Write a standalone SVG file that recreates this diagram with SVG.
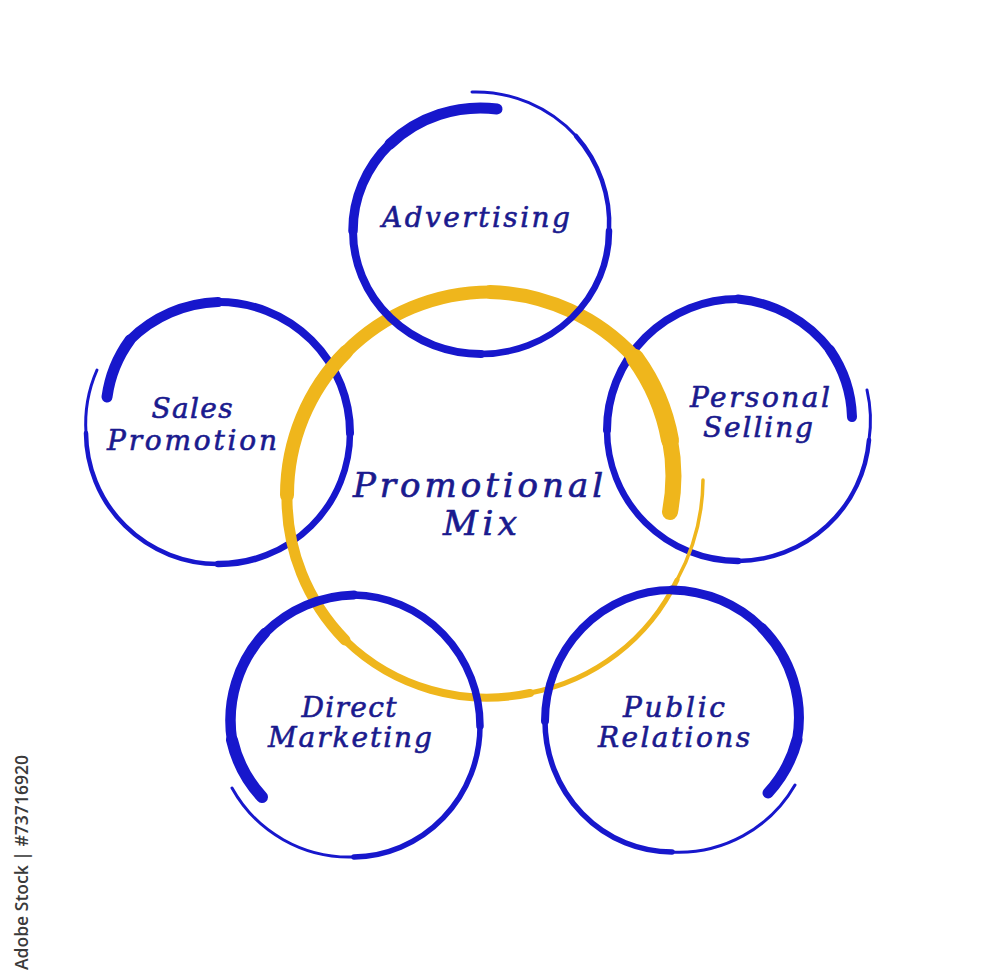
<svg xmlns="http://www.w3.org/2000/svg" width="1000" height="977" viewBox="0 0 1000 977">
<style>
.b{fill:none;stroke:#1717cc;stroke-linecap:round;stroke-linejoin:round}
.o{fill:none;stroke:#efb61c;stroke-linecap:round;stroke-linejoin:round}
.t{font-family:"DejaVu Serif","Liberation Serif",serif;font-style:italic;fill:#1a1a8e;stroke:#1a1a8e;stroke-width:0.6px;text-anchor:middle;font-size:28px}
.c{font-size:34px;stroke-width:0.7px}
</style>
<rect width="1000" height="977" fill="#ffffff"/>
<g id="node-sales-promotion">
<path class="b" stroke-width="11" d="M107,397 A125,125 0 0 1 130,340"/>
<path class="b" stroke-width="10" d="M130,340 A131,131 0 0 1 218,302"/>
<path class="b" stroke-width="8" d="M218,302 A131,131 0 0 1 350,433"/>
<path class="b" stroke-width="6.5" d="M350,433 A131,131 0 0 1 218,564"/>
<path class="b" stroke-width="4.5" d="M218,564 A132,132 0 0 1 86,433"/>
<path class="b" stroke-width="3" d="M86,433 A134,134 0 0 1 97,370"/>
<text class="t" x="192" y="418" textLength="81" lengthAdjust="spacing">Sales</text>
<text class="t" x="192" y="450" textLength="170" lengthAdjust="spacing">Promotion</text>
</g>
<g id="node-personal-selling">
<path class="b" stroke-width="10" d="M852,417 A125,125 0 0 0 830,350"/>
<path class="b" stroke-width="9" d="M830,350 A131,131 0 0 0 738,299"/>
<path class="b" stroke-width="8" d="M738,299 A131,131 0 0 0 607,430"/>
<path class="b" stroke-width="6.5" d="M607,430 A131,131 0 0 0 738,561"/>
<path class="b" stroke-width="4.5" d="M738,561 A132,132 0 0 0 869,440"/>
<path class="b" stroke-width="3" d="M869,440 A134,134 0 0 0 867,390"/>
<text class="t" x="760" y="407" textLength="140" lengthAdjust="spacing">Personal</text>
<text class="t" x="758" y="437" textLength="110" lengthAdjust="spacing">Selling</text>
</g>
<g id="node-promotional-mix">
<path class="o" stroke-width="3.5" d="M703,480 A212,212 0 0 1 677,580"/>
<path class="o" stroke-width="5" d="M677,580 A205,205 0 0 1 530,693"/>
<path class="o" stroke-width="8" d="M530,693 A203,203 0 0 1 345,640"/>
<path class="o" stroke-width="11" d="M345,640 A203,203 0 0 1 287,495"/>
<path class="o" stroke-width="14" d="M287,495 A203,203 0 0 1 346,352"/>
<path class="o" stroke-width="13" d="M346,352 A203,203 0 0 1 490,292"/>
<path class="o" stroke-width="14" d="M490,292 A203,203 0 0 1 635,358"/>
<path class="o" stroke-width="18" d="M635,358 A200,200 0 0 1 670,440"/>
<path class="o" stroke-width="16" d="M670,440 A190,190 0 0 1 670,512"/>
<text class="t c" x="478" y="497" textLength="250" lengthAdjust="spacing">Promotional</text>
<text class="t c" x="480" y="535" textLength="74" lengthAdjust="spacing">Mix</text>
</g>
<g id="node-advertising">
<path class="b" stroke-width="11" d="M497,109 A128,123 0 0 0 390,144"/>
<path class="b" stroke-width="9.5" d="M390,144 A128,123 0 0 0 353,231"/>
<path class="b" stroke-width="8" d="M353,231 A128,123 0 0 0 481,354"/>
<path class="b" stroke-width="6.5" d="M481,354 A128,123 0 0 0 609,231"/>
<path class="b" stroke-width="4.5" d="M609,231 A132,132 0 0 0 576,136"/>
<path class="b" stroke-width="3" d="M576,136 A136,136 0 0 0 472,92"/>
<text class="t" x="476" y="227" textLength="188" lengthAdjust="spacing">Advertising</text>
</g>
<g id="node-direct-marketing">
<path class="b" stroke-width="12" d="M262,797 A125,125 0 0 1 232,740"/>
<path class="b" stroke-width="10.5" d="M232,740 A128,128 0 0 1 265,633"/>
<path class="b" stroke-width="9" d="M265,633 A130,130 0 0 1 354,595"/>
<path class="b" stroke-width="7.5" d="M354,595 A128,131 0 0 1 480,726"/>
<path class="b" stroke-width="5.5" d="M480,726 A128,131 0 0 1 354,857"/>
<path class="b" stroke-width="3" d="M354,857 A134,134 0 0 1 232,788"/>
<text class="t" x="349" y="717" textLength="95" lengthAdjust="spacing">Direct</text>
<text class="t" x="350" y="747" textLength="164" lengthAdjust="spacing">Marketing</text>
</g>
<g id="node-public-relations">
<path class="b" stroke-width="11" d="M768,793 A125,125 0 0 0 797,740"/>
<path class="b" stroke-width="10" d="M797,740 A128,128 0 0 0 762,628"/>
<path class="b" stroke-width="9" d="M762,628 A130,130 0 0 0 672,590"/>
<path class="b" stroke-width="8" d="M672,590 A127,131 0 0 0 545,721"/>
<path class="b" stroke-width="5.5" d="M545,721 A127,131 0 0 0 672,852"/>
<path class="b" stroke-width="3" d="M672,852 A134,134 0 0 0 795,785"/>
<text class="t" x="674" y="717" textLength="102" lengthAdjust="spacing">Public</text>
<text class="t" x="674" y="747" textLength="152" lengthAdjust="spacing">Relations</text>
</g>
<text transform="translate(28,970) rotate(-90)" font-family="'Open Sans','DejaVu Sans',sans-serif" font-size="18" font-weight="600" fill="#3a3a3a" textLength="215" lengthAdjust="spacingAndGlyphs">Adobe Stock | #73716920</text>
</svg>
